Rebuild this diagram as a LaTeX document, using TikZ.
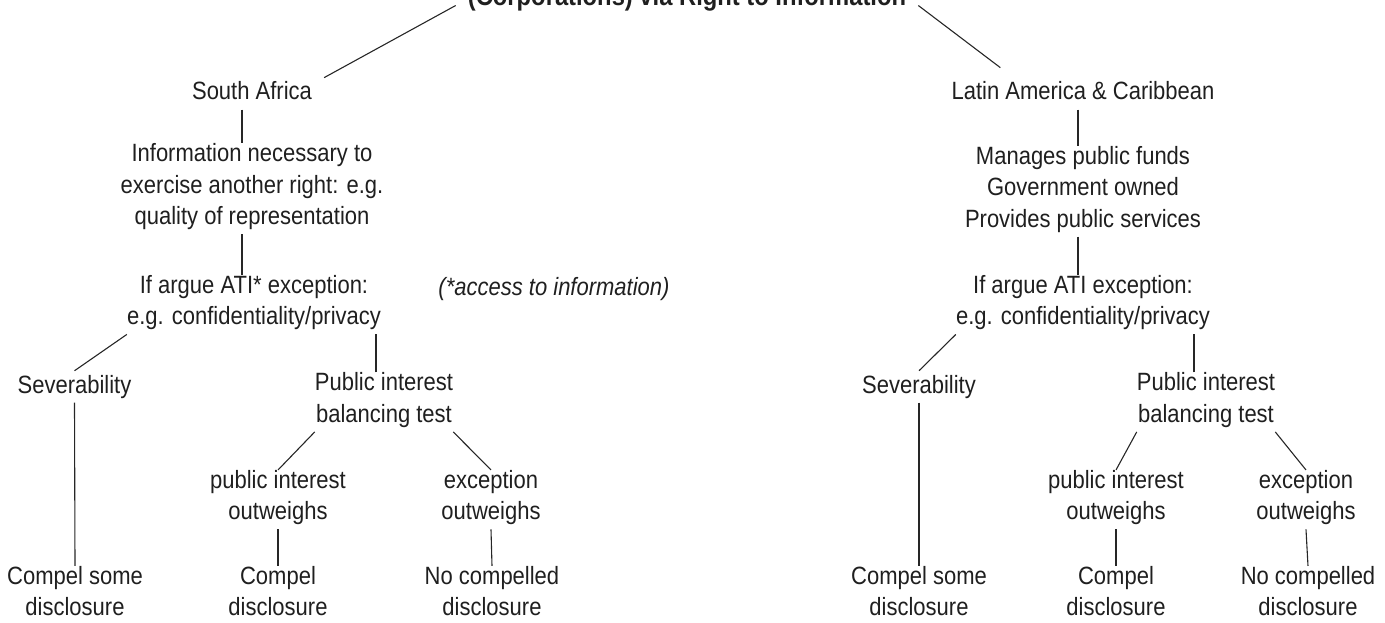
\documentclass[tikz,border=0pt]{standalone}
\usepackage{fontspec}
\setmainfont[FakeStretch=0.88]{Liberation Sans}

\begin{document}
\begin{tikzpicture}[x=1pt,y=-1pt,
  txt/.style={font=\fontsize{25}{31.5}\selectfont, align=center, inner sep=0pt,
    text=black!88, execute at begin node=\strut, execute at end node=\strut},
  link/.style={line width=1.1pt, black!85}]

  \useasboundingbox (0,0) rectangle (1385,623);
  \clip (0,0) rectangle (1385,623);

  % Title (cut at the top edge)
  \node[font=\fontsize{27}{32}\selectfont\bfseries, text=black!88,
    inner xsep=12pt, inner ysep=0pt, anchor=base] (title) at (687,5.5)
    {(Corporations) via Right to Information};

  % South Africa branch
  \node[txt] (sa)   at (252,93.6)  {South Africa};
  \node[txt] (info) at (252,188.7) {Information necessary to\\exercise another right: e.g.\\quality of representation};
  \node[txt] (ifsa) at (254,304.7) {If argue ATI* exception:\\e.g. confidentiality/privacy};
  \node[txt, font=\fontsize{25}{31.5}\selectfont\itshape] (note) at (554,288.7) {(*access to information)};
  \node[txt] (sev)  at (74.5,386.7) {Severability};
  \node[txt] (pub)  at (384,402.2) {Public interest\\balancing test};
  \node[txt] (pio)  at (278,499.7) {public interest\\outweighs};
  \node[txt] (eo)   at (491,499.7) {exception\\outweighs};
  \node[txt] (csd)  at (75,595.7)  {Compel some\\disclosure};
  \node[txt] (cd)   at (278,595.7) {Compel\\disclosure};
  \node[txt] (ncd)  at (492,595.7) {No compelled\\disclosure};

  % Latin America & Caribbean branch
  \node[txt] (la)    at (1083,93.6)  {Latin America \& Caribbean};
  \node[txt] (crit)  at (1083,191.2) {Manages public funds\\Government owned\\Provides public services};
  \node[txt] (ifla)  at (1083,304.7) {If argue ATI exception:\\e.g. confidentiality/privacy};
  \node[txt] (sevr)  at (919,386.7)  {Severability};
  \node[txt] (pubr)  at (1206,402.2) {Public interest\\balancing test};
  \node[txt] (pior)  at (1116,499.7) {public interest\\outweighs};
  \node[txt] (eor)   at (1306,499.7) {exception\\outweighs};
  \node[txt] (csdr)  at (919,595.7)  {Compel some\\disclosure};
  \node[txt] (cdr)   at (1116,595.7) {Compel\\disclosure};
  \node[txt] (ncdr)  at (1308,595.7) {No compelled\\disclosure};

  % Links from the title
  \draw[link] (title.base west) -- ([xshift=12pt]sa.north east);
  \draw[link] (title.base east) -- ([xshift=49pt,yshift=10pt]la.north west);

  % Links, South Africa
  \draw[link] ([xshift=-10pt]sa.south) -- ([xshift=-10pt]sa.south |- info.north);
  \draw[link] ([xshift=-10pt]info.south) -- ([xshift=-10pt]info.south |- ifsa.north);
  \draw[link] (ifsa.south west) -- (sev.north);
  \draw[link] ([xshift=-8pt]pub.north) -- ([xshift=-8pt]pub.north |- ifsa.south);
  \draw[link] (sev.south) -- (csd.north);
  \draw[link] (pub.south west) -- (pio.north);
  \draw[link] (pub.south east) -- (eo.north);
  \draw[link] (pio.south) -- (cd.north);
  \draw[link] (eo.south) -- (ncd.north);

  % Links, Latin America & Caribbean
  \draw[link] ([xshift=-5pt]la.south) -- ([xshift=-5pt]la.south |- crit.north);
  \draw[link] ([xshift=-5pt]crit.south) -- ([xshift=-5pt]crit.south |- ifla.north);
  \draw[link] (ifla.south west) -- (sevr.north);
  \draw[link] ([xshift=-12pt]pubr.north) -- ([xshift=-12pt]pubr.north |- ifla.south);
  \draw[link] (sevr.south) -- (csdr.north);
  \draw[link] (pubr.south west) -- (pior.north);
  \draw[link] (pubr.south east) -- (eor.north);
  \draw[link] (pior.south) -- (cdr.north);
  \draw[link] (eor.south) -- (ncdr.north);

\end{tikzpicture}
\end{document}
